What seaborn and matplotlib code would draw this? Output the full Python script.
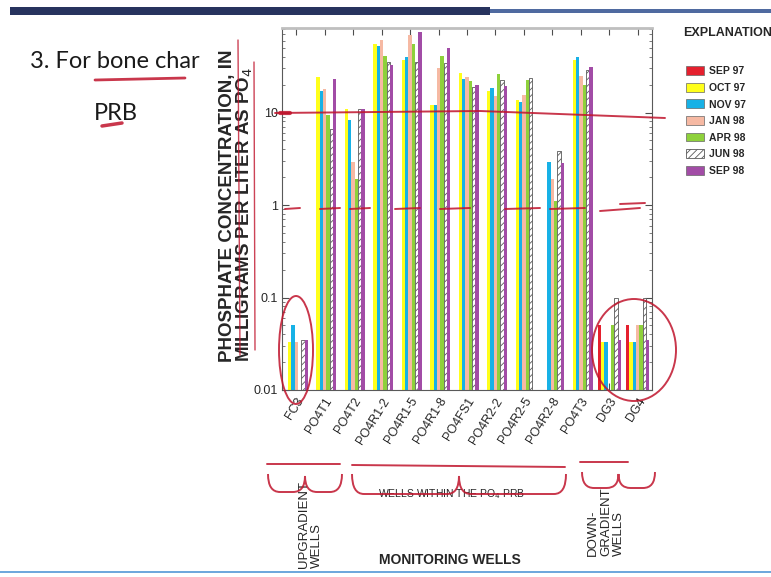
import numpy as np
import pandas as pd
import matplotlib
matplotlib.use("Agg")
import matplotlib.pyplot as plt
from matplotlib.patches import Patch, Ellipse, Rectangle, PathPatch
from matplotlib.path import Path
from matplotlib.ticker import FixedLocator, FixedFormatter, LogLocator, NullFormatter
import seaborn as sns

# -----------------------------
# DATA
# -----------------------------

wells = ["FC3", "PO4T1", "PO4T2", "PO4R1-2", "PO4R1-5", "PO4R1-8", "PO4FS1",
         "PO4R2-2", "PO4R2-5", "PO4R2-8", "PO4T3", "DG3", "DG4"]
months = ["SEP 97", "OCT 97", "NOV 97", "JAN 98", "APR 98", "JUN 98", "SEP 98"]

nan = np.nan
sep97 = [nan, nan, nan, nan, nan, nan, nan, nan, nan, nan, nan, 0.05, 0.05]
oct97 = [0.033, 24, 11, 55, 37, 12, 26.5, 17, 13.6, nan, 37, 0.033, 0.033]
nov97 = [0.05, 17, 8.4, 52, 40, 12, 23, 18.5, 13, 2.9, 40, 0.033, 0.033]
jan98 = [0.033, 18, 2.9, 61, 69, 30, 24, 15, 15.5, 1.9, 25, nan, 0.05]
apr98 = [nan, 9.4, 1.9, 41, 55, 41, 22, 26, 22.6, 1.1, 19.8, 0.05, 0.05]
jun98 = [0.035, 6.6, 11, 35, 35, 34, 19, 22.6, 23.8, 3.8, 28.8, 0.1, 0.1]
sep98 = [0.035, 23, 11, 33, 74, 50, 20, 19.5, nan, 2.85, 30.8, 0.035, 0.035]

colors = ["#e5202e", "#ffff1a", "#17b1e6", "#f6b9a3", "#8ed13b", "#ffffff", "#a24ca6"]

y_ticks = [0.01, 0.1, 1, 10]
y_tick_labels = ["0.01", "0.1", "1", "10"]

# -----------------------------
# FRAME
# -----------------------------

sns.set_style("white")
plt.rcParams["font.family"] = ["Liberation Sans", "DejaVu Sans"]
plt.rcParams["hatch.linewidth"] = 0.6

W, H = 771, 577
fig = plt.figure(figsize=(W / 100, H / 100), dpi=100)

ax = fig.add_axes([282 / W, 1 - 390 / H, (652 - 282) / W, (390 - 28) / H])

df = pd.DataFrame({
    "well": np.repeat(wells, len(months)),
    "month": months * len(wells),
    "value": np.column_stack([sep97, oct97, nov97, jan98, apr98, jun98, sep98]).ravel(),
}).dropna()

sns.barplot(
    data=df, x="well", y="value", hue="month",
    order=wells, hue_order=months, palette=colors,
    saturation=1, errorbar=None, width=0.82,
    linewidth=0, legend=False, ax=ax
)
ax.set_yscale("log")

# hatched JUN 98 bars
for cont, month in zip(ax.containers, months):
    if month == "JUN 98":
        for bar in cont:
            bar.set_facecolor("white")
            bar.set_edgecolor("0.35")
            bar.set_linewidth(0.6)
            bar.set_hatch("/////")

ax.set_ylim(0.01, 82)
ax.set_xlim(-0.5, len(wells) - 0.5)
ax.yaxis.set_major_locator(FixedLocator(y_ticks))
ax.yaxis.set_major_formatter(FixedFormatter(y_tick_labels))
ax.yaxis.set_minor_locator(LogLocator(base=10, subs=np.arange(2, 10)))
ax.yaxis.set_minor_formatter(NullFormatter())
ax.tick_params(axis="y", which="major", direction="in", length=5, labelsize=9,
               left=True, right=True, pad=3, color="0.3")
ax.tick_params(axis="y", which="minor", direction="in", length=2.5,
               left=True, right=True, color="0.4")
ax.tick_params(axis="x", direction="in", length=5, top=True, bottom=True,
               labelsize=9, pad=4, color="0.3")
ax.set_xticks(range(len(wells)))
ax.set_xticklabels(wells, rotation=58, ha="right", rotation_mode="anchor")
ax.set_xlabel("")
ax.set_ylabel("")
for s in ax.spines.values():
    s.set_color("0.35")
    s.set_linewidth(0.8)
ax.spines["top"].set_color("0.75")
ax.spines["top"].set_linewidth(2)

# -----------------------------
# TEXTS
# -----------------------------

def px(x, y):
    return x / W, 1 - y / H

fig.text(*px(237, 362), "PHOSPHATE CONCENTRATION, IN\nMILLIGRAMS PER LITER AS PO$_4$",
         rotation=90, ha="center", va="bottom", fontsize=13.5, fontweight="bold",
         linespacing=0.85, multialignment="left")

fig.text(*px(728, 33), "EXPLANATION", ha="center", va="center",
         fontsize=9, fontweight="bold")

handles = []
for month, c in zip(months, colors):
    if month == "JUN 98":
        handles.append(Patch(facecolor="white", edgecolor="0.35", hatch="/////", lw=0.6))
    else:
        handles.append(Patch(facecolor=c, edgecolor="0.4", lw=0.5))
fig.legend(handles, months, loc="upper left", bbox_to_anchor=px(677, 57),
           frameon=False, handlelength=1.7, handleheight=0.95, handletextpad=0.5,
           labelspacing=0.62, prop={"size": 7.5, "weight": "bold"})

fig.text(*px(310, 568), "UPGRADIENT\nWELLS", rotation=90, ha="center", va="bottom",
         fontsize=9.5, linespacing=1.1, multialignment="left")
fig.text(*px(606, 556), "DOWN-\nGRADIENT\nWELLS", rotation=90, ha="center", va="bottom",
         fontsize=9.5, linespacing=1.1, multialignment="left")
fig.text(*px(452, 494), "WELLS WITHIN THE PO$_4$ PRB", ha="center", va="center",
         fontsize=7.5)
fig.text(*px(450, 560), "MONITORING WELLS", ha="center", va="center",
         fontsize=10, fontweight="bold")

fig.text(*px(30, 62), "3. For bone char", ha="left", va="center", fontsize=17,
         family=["Lato", "DejaVu Sans"], color="0.1")
fig.text(*px(116, 113), "PRB", ha="center", va="center", fontsize=17,
         family=["Lato", "DejaVu Sans"], color="0.1")

# -----------------------------
# SLIDE DECOR + HAND MARKS
# -----------------------------

over = fig.add_axes([0, 0, 1, 1], zorder=5)
over.set_xlim(0, W)
over.set_ylim(H, 0)
over.axis("off")

over.add_patch(Rectangle((10, 7), 480, 8, color="#27335e", lw=0))
over.add_patch(Rectangle((490, 9), W - 490, 4, color="#4f6aa0", lw=0))
over.add_patch(Rectangle((0, 571), W, 2, color="#6fa8dc", lw=0))

red = "#c0142c"
kw = dict(color=red, lw=1.4, alpha=0.85, solid_capstyle="round")

over.plot([275, 480, 665], [113, 111, 118], **kw)
over.plot([280, 290], [113, 113], color=red, lw=3, alpha=0.85)
for x0, x1 in [(285, 300), (320, 340), (350, 370), (395, 420), (440, 470),
               (505, 540), (550, 585)]:
    over.plot([x0, x1], [209, 208], **kw)
over.plot([600, 640], [211, 208], **kw)
over.plot([620, 645], [204, 203], **kw)
over.add_patch(Ellipse((296, 350), 34, 108, fill=False, ec=red, lw=1.4, alpha=0.85))
over.add_patch(Ellipse((634, 350), 84, 102, fill=False, ec=red, lw=1.4, alpha=0.85))
over.plot([238, 240], [40, 355], color=red, lw=1.0, alpha=0.8)
over.plot([254, 255], [62, 350], color=red, lw=1.0, alpha=0.8)

over.plot([95, 185], [80, 78], color=red, lw=2, alpha=0.85)
over.plot([102, 122], [126, 123], color=red, lw=2.5, alpha=0.85)

over.plot([267, 340], [464, 464], **kw)
over.plot([352, 565], [465, 467], **kw)
over.plot([580, 628], [462, 462], **kw)


def brace(x0, x1, y0, h):
    xm = (x0 + x1) / 2
    r = min(12, (x1 - x0) / 6)
    verts = [(x0, y0), (x0, y0 + h), (x0 + r, y0 + h),
             (xm - r, y0 + h), (xm, y0 + h), (xm, y0 + 2),
             (xm, y0 + h), (xm + r, y0 + h),
             (x1 - r, y0 + h), (x1, y0 + h), (x1, y0)]
    codes = [Path.MOVETO, Path.CURVE3, Path.CURVE3,
             Path.LINETO, Path.CURVE3, Path.CURVE3,
             Path.CURVE3, Path.CURVE3,
             Path.LINETO, Path.CURVE3, Path.CURVE3]
    over.add_patch(PathPatch(Path(verts, codes), fill=False, ec=red, lw=1.4, alpha=0.85))


brace(268, 342, 474, 18)
brace(352, 566, 474, 20)
brace(582, 655, 472, 16)

fig.savefig("out.png", dpi=100)
